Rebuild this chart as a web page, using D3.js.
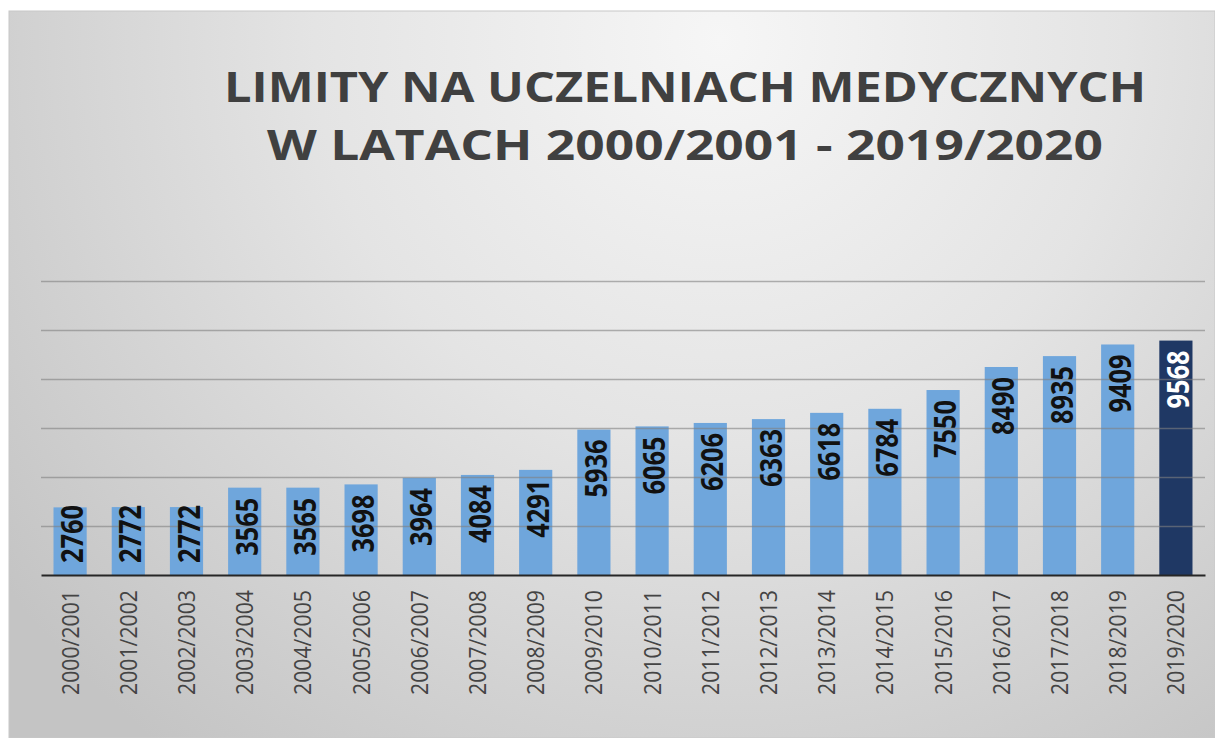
<!DOCTYPE html>
<html>
<head>
<meta charset="utf-8">
<script src="https://cdn.jsdelivr.net/npm/d3@7"></script>
<style>
  html, body { margin: 0; padding: 0; background: #fff; }
  svg { display: block; }
</style>
</head>
<body>
<script>
// data
const years = ['2000/2001', '2001/2002', '2002/2003', '2003/2004', '2004/2005', '2005/2006',
  '2006/2007', '2007/2008', '2008/2009', '2009/2010', '2010/2011', '2011/2012', '2012/2013',
  '2013/2014', '2014/2015', '2015/2016', '2016/2017', '2017/2018', '2018/2019', '2019/2020'];
const limits = [2760, 2772, 2772, 3565, 3565, 3698, 3964, 4084, 4291, 5936,
  6065, 6206, 6363, 6618, 6784, 7550, 8490, 8935, 9409, 9568];
const gridTicks = [2000, 4000, 6000, 8000, 10000, 12000];
const titleLines = ['LIMITY NA UCZELNIACH MEDYCZNYCH', 'W LATACH 2000/2001 - 2019/2020'];

const width = 1215, height = 738;

const svg = d3.select('body').append('svg')
  .attr('width', width)
  .attr('height', height);

const defs = svg.append('defs');
const grad = defs.append('radialGradient')
  .attr('id', 'bg')
  .attr('gradientUnits', 'userSpaceOnUse')
  .attr('cx', 720).attr('cy', 40).attr('r', 900);
grad.append('stop').attr('offset', '0%').attr('stop-color', '#f6f6f6');
grad.append('stop').attr('offset', '45%').attr('stop-color', '#e4e4e4');
grad.append('stop').attr('offset', '100%').attr('stop-color', '#c4c4c4');

// panel
svg.append('rect')
  .attr('x', 9).attr('y', 11)
  .attr('width', width - 9).attr('height', height - 11)
  .attr('fill', 'url(#bg)')
  .attr('stroke', '#c8c8c8');

// title
const titleWidths = [922, 836];
svg.append('g').selectAll('text')
  .data(titleLines)
  .enter()
    .append('text')
    .attr('x', 685)
    .attr('y', (d, i) => 102 + i * 58)
    .attr('text-anchor', 'middle')
    .attr('font-family', 'Open Sans, sans-serif')
    .attr('font-weight', 'bold')
    .attr('font-size', 42)
    .attr('textLength', (d, i) => titleWidths[i])
    .attr('lengthAdjust', 'spacingAndGlyphs')
    .attr('fill', '#404040')
    .text(d => d);

const x = d3.scaleBand()
  .domain(years)
  .range([41, 1205])
  .paddingInner(0.43)
  .paddingOuter(0.215);

const y = d3.scaleLinear()
  .domain([0, 12000])
  .range([575, 281]);

// bars
svg.append('g').selectAll('rect')
  .data(limits)
  .enter()
    .append('rect')
    .attr('x', (d, i) => x(years[i]))
    .attr('y', d => y(d))
    .attr('width', x.bandwidth())
    .attr('height', d => y(0) - y(d))
    .attr('fill', (d, i) => i === limits.length - 1 ? '#1f3864' : '#6fa6dc');

// gridlines
const grid = d3.axisLeft(y)
  .tickValues(gridTicks)
  .tickSize(-(1205 - 41))
  .tickFormat('');

svg.append('g')
  .attr('transform', 'translate(41, 0)')
  .call(grid)
  .call(g => g.select('.domain').remove())
  .call(g => g.selectAll('.tick line')
    .attr('stroke', '#808080')
    .attr('stroke-opacity', 0.6)
    .attr('stroke-width', 1.3));

// baseline and category labels
const xAxis = d3.axisBottom(x).tickSize(0).tickPadding(0);
svg.append('g')
  .attr('transform', `translate(0, ${y(0)})`)
  .call(xAxis)
  .call(g => g.select('.domain').attr('stroke', '#262626').attr('stroke-width', 2))
  .call(g => g.selectAll('.tick text')
    .attr('transform', 'rotate(-90)')
    .attr('x', -15)
    .attr('y', 0)
    .attr('dy', '0.35em')
    .attr('text-anchor', 'end')
    .attr('font-family', 'Open Sans, sans-serif')
    .attr('font-size', 24)
    .attr('textLength', 105)
    .attr('lengthAdjust', 'spacingAndGlyphs')
    .attr('fill', '#444'));

// value labels inside bars
const labelLen = 58;
svg.append('g').selectAll('text')
  .data(limits)
  .enter()
    .append('text')
    .attr('text-anchor', 'start')
    .attr('font-family', 'Open Sans, sans-serif')
    .attr('font-weight', 'bold')
    .attr('font-size', 31)
    .attr('textLength', labelLen)
    .attr('lengthAdjust', 'spacingAndGlyphs')
    .attr('fill', (d, i) => i === limits.length - 1 ? '#ffffff' : '#111111')
    .attr('dy', '0.36em')
    .attr('transform', (d, i) => {
      const bottom = Math.min(y(d) + 10 + labelLen, y(0) - 12);
      const cx = x(years[i]) + x.bandwidth() / 2 + 2;
      return `translate(${cx}, ${bottom}) rotate(-90)`;
    })
    .text(d => d);
</script>
</body>
</html>
